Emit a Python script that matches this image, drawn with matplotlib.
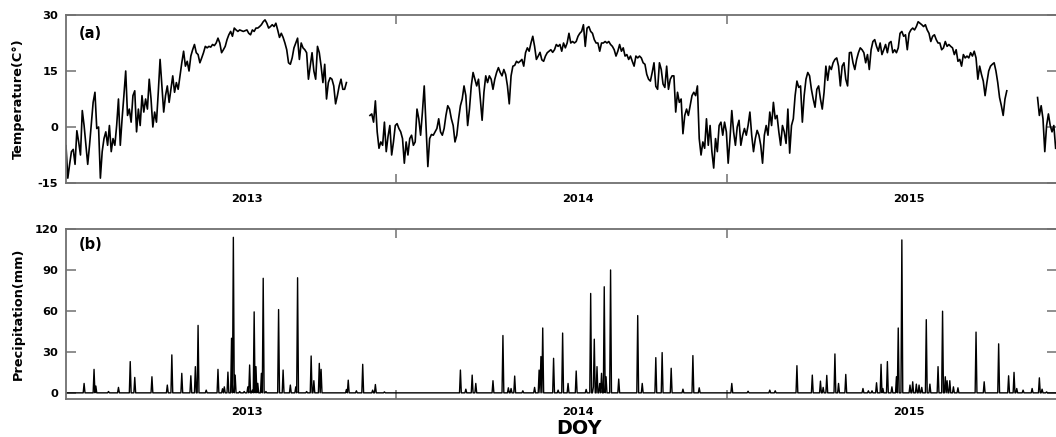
import numpy as np
import matplotlib
matplotlib.use("Agg")
import matplotlib.pyplot as plt
from matplotlib.ticker import FixedLocator, FixedFormatter, NullFormatter

plt.rcParams['axes.unicode_minus'] = False

# daily mean temperature (C), one reading every 2 days; three pieces, missing days in between
temp_start = [0, 336, 1074]
temp_a = [-5, -13.7, -10, -6.6, -6, -10, -1, -4, -7.5, 4.4, 0.4, -4.9, -10, -4.9, 1, 6.6, 9.3, -0.4, 0, -13.7,
          -6.6, -3.1, -1.3, -4.9, 0.4, -6.6, -3.1, -4.9, 0.4, 7.5, -4.9, 2.2, 8.4, 15, 3.1, 4.8, 1.3, 8.4, 9.7, -1.3,
          4.8, 0.4, 8.4, 4, 7.5, 4.8, 12.8, 7.5, 0, 4, 1.3, 9.3, 18.1, 11, 4, 8.4, 11, 6.6, 10.1, 13.7,
          9.3, 11.9, 10.1, 13.7, 17.2, 20.3, 16.3, 17.6, 15, 19, 20.7, 22.1, 19.9, 19.4, 17.2, 18.5, 19.9, 21.6, 21.2, 21.6,
          21.4, 22.1, 21.8, 22.5, 23.8, 22.5, 19.9, 20.7, 21.6, 23.4, 24.7, 25.6, 24.3, 26.5, 26, 25.6, 26, 25.8, 25.6, 25.8,
          26, 25.1, 24.7, 26, 25.6, 26.5, 26.5, 26.9, 27.4, 28.2, 28.7, 27.8, 26.5, 26.9, 27.4, 26.9, 27.8, 26, 24, 25.1,
          24, 22.5, 20.7, 17.2, 16.8, 18.5, 21.2, 22.5, 23.8, 18.1, 22.5, 21.2, 20.7, 19.9, 12.8, 16.3, 19.9, 15, 12.8, 21.6,
          19.9, 16.3, 11.9, 16.8, 7.5, 11.9, 13.2, 12.8, 11, 6.2, 8.4, 11, 12.8, 10.1, 10.1, 11.9]
temp_b = [3.1, 3.5, 1.3, 7, -1.3, -5.7, -4, -4.9, 1.3, -6.6, -2.5, 0.4, -7.5, -4, 0.4, 0.9, -0.4, -1.3, -3.1, -9.7,
          -4, -7.5, -3.1, -2.2, -4.9, -4, 4.8, 2.2, -2.2, 4, 11, 0.4, -10.6, -3.1, -2, -2.2, -1.3, -0.4, 2.2, -1.3,
          -2.2, -0.4, 3.1, 5.7, 4.8, 2.2, 0.4, -4, -2.2, 2.2, 5.7, 7.5, 11, 8.4, 0.4, 4.8, 11, 14.6, 12.8, 11,
          12.8, 7.5, 1.8, 9.3, 13.7, 11.9, 13.7, 12.8, 10.1, 12.8, 14.6, 15.9, 14.6, 13.7, 15.4, 14.1, 11, 6.2, 13.7, 16.3,
          16.5, 17.6, 17.2, 17.6, 18.1, 16.3, 19.9, 21.2, 20.3, 22.5, 24.3, 21.6, 18.1, 19, 20, 18, 17.6, 19, 19.9, 20.3,
          20.7, 20, 20.7, 22.1, 21.6, 22.1, 20.3, 22.5, 21.2, 22.5, 25.1, 22.5, 22.9, 22.5, 22.9, 24.3, 25.1, 25.6, 27.4, 21.6,
          26.5, 26.9, 25.6, 25.1, 23.4, 22.5, 22.5, 20.3, 22.5, 22.5, 22.9, 22.5, 22.9, 22.1, 21.6, 20.7, 19, 20.3, 22.1, 20.3,
          21.2, 19, 19.4, 18.1, 19, 17.6, 16.3, 19, 18.5, 19, 18.5, 17.2, 16.8, 14.1, 12.8, 12.3, 14.6, 17.2, 10.9, 10.1,
          17.2, 15.4, 11.5, 10.6, 16.3, 10.1, 12.8, 13.7, 13.7, 4, 9.3, 6.6, 7.5, -1.8, 3.1, 4.8, 3.1, 5.7, 8.4, 9.3,
          8.4, 11, -3.1, -7.5, -4, -5.7, 2.2, -4.9, 0.4, -6.6, -11, -3.1, -6.6, 0.4, 1.3, -2.2, 1.3, -1.3, -9.7, -3.1,
          4.4, -1.3, -4.9, 0, 1.8, -4.9, -2.2, -0.4, -2.2, 0.4, 4, -2.2, -6.6, -3.1, -0.9, -2.2, -4.9, -9.7, -2.2, 0.4,
          -2.2, 4, 0.4, 6.6, 2.2, 3.1, -1.3, -4.9, 0.4, -1.3, -4.4, 4.8, -7, 0.4, 2.2, 8.4, 12.3, 10.6, 11, 1.3,
          8.4, 12.8, 14.6, 13.7, 10.1, 7.5, 5.3, 10.1, 11, 7.5, 4.8, 9.3, 16.3, 12.5, 16.3, 15.4, 17.2, 18.1, 18.5, 16.3,
          11, 16.3, 17.2, 12.8, 11, 19.9, 20, 17.2, 15.4, 18.1, 19.9, 21.2, 20.7, 19.9, 17.2, 19.4, 15.4, 20.7, 22.9, 23.4,
          21.6, 20.3, 22.5, 19.4, 20.7, 22.1, 19.9, 22.5, 22.9, 19.9, 20.7, 19.9, 21.2, 25.1, 25.6, 24.3, 24.7, 20.7, 25.1, 26,
          26.5, 26, 26.9, 28.2, 27.8, 27.4, 26.9, 27.4, 26, 25.1, 22.9, 24.3, 24.7, 23.4, 22.5, 22.5, 20.7, 21.2, 22.9, 21.6,
          22.1, 21.6, 21.2, 19.4, 20.7, 17.6, 18.1, 16.3, 19.4, 18.5, 19, 18.5, 19.9, 19, 20.3, 18.5, 12.8, 16.3, 14.1, 12.3,
          8.4, 11.9, 15, 16.3, 16.8, 17.2, 15, 11.9, 7.9, 5.7, 3.1, 7.5, 9.7]
temp_c = [7.9, 3.1, 5.7, 2.2, -6.6, 0.4, 3.5, 0.4, -1.3, 0.4, -5.7]

# rainy days (day index from 1 Jan 2013) and daily precipitation (mm)
rain_day = [20, 31, 33, 47, 58, 71, 76, 95, 112, 117, 128, 138, 143, 146, 155, 168, 173, 175, 179, 183,
            185, 187, 192, 197, 201, 203, 206, 208, 210, 212, 216, 218, 221, 235, 240, 248, 254, 256, 266, 271,
            274, 280, 282, 310, 312, 321, 328, 339, 342, 352,
            436, 442, 449, 453, 472, 483, 489, 492, 496, 505, 518, 523, 525, 527, 539, 544, 549, 555, 564, 575,
            580, 583, 584, 587, 590, 592, 595, 597, 602, 611, 632, 637, 652, 659, 669, 682, 693, 700, 736, 754,
            778, 784,
            808, 825, 834, 837, 841, 850, 854, 862, 881, 887, 891, 896, 901, 903, 908, 913, 918, 920, 924, 933,
            936, 940, 943, 946, 951, 955, 964, 969, 972, 974, 977, 981, 986, 1006, 1015, 1031, 1042, 1048, 1051, 1058,
            1068, 1076, 1079, 1084]
rain_mm = [6.9, 17.2, 5, 1, 4, 22.9, 11.3, 11.8, 5.7, 27.8, 14.3, 12.5, 19.2, 49.4, 2, 17.2, 3, 4.4, 15.2, 40,
           113.9, 13, 1, 1, 4.4, 20.4, 2, 59.3, 19.2, 7, 14.3, 83.9, 1, 61, 16.7, 5.7, 4.4, 84.3, 1, 27,
           8.9, 21.6, 17.2, 2.5, 9.3, 1.5, 20.9, 2, 6.1, 0.7,
           16.7, 2.7, 13, 6.9, 8.9, 42, 3.7, 3.2, 12.3, 1.5, 4, 16.7, 26.6, 47.5, 25.3, 2, 43.8, 6.9, 16, 2.5,
           72.8, 4.4, 39.3, 19.2, 6.9, 14.3, 77.7, 11.8, 90, 10.1, 56.6, 6.9, 25.8, 29.5, 18, 2.7, 27.3, 3.7, 6.9, 1.2,
           2, 1.5,
           19.9, 13, 8.6, 4, 12.8, 28.5, 6.9, 13.5, 3.2, 1.5, 1.5, 7.4, 20.9, 3.2, 22.9, 4.4, 11.8, 47.5, 112, 5.7,
           8.1, 6.4, 5.7, 4, 53.6, 6.4, 19.2, 59.8, 11.8, 8.9, 8.9, 4.4, 3.7, 44.5, 8.1, 35.9, 12.5, 15, 3.2, 2,
           3.2, 11, 2.7, 0.7]

years = ['2013', '2014', '2015']
year_mid = [200, 566, 932]
year_edge = [365, 731]
n_days = 1096

# build the plotting series
tx, ty = [], []
for start, seg in zip(temp_start, [temp_a, temp_b, temp_c]):
    tx += list(range(start, start + 2 * len(seg), 2)) + [np.nan]
    ty += seg + [np.nan]
days = np.arange(n_days)
rain = np.zeros(n_days)
rain[rain_day] = rain_mm

grey = '#707070'
W, H = 1056, 437

fig = plt.figure(figsize=(W / 100, H / 100), dpi=100)
ax1 = fig.add_axes([66 / W, 1 - 183 / H, 991 / W, 168 / H])
ax2 = fig.add_axes([66 / W, 1 - 399 / H, 991 / W, 170 / H])

ax1.plot(tx, ty, color='black', lw=1.2)
ax2.plot(days, rain, color='black', lw=1.0)


def style(ax, xpad):
    ax.set_xlim(0, 1095.5)
    ax.xaxis.set_major_locator(FixedLocator(year_edge))
    ax.xaxis.set_major_formatter(NullFormatter())
    ax.xaxis.set_minor_locator(FixedLocator(year_mid))
    ax.xaxis.set_minor_formatter(FixedFormatter(years))
    ax.tick_params(which='major', direction='in', width=1.1, color=grey, top=True, right=True)
    ax.tick_params(axis='x', which='major', length=6.5)
    ax.tick_params(axis='x', which='minor', length=0, pad=xpad, labelsize=8.2)
    ax.tick_params(axis='y', which='major', length=7.2, pad=5.5, labelsize=8.2)
    for s in ax.spines.values():
        s.set_color(grey)
        s.set_linewidth(1.3)
    for lab in ax.get_xticklabels(minor=True) + ax.get_yticklabels():
        lab.set_fontweight('bold')
    ax.yaxis.set_label_coords(-0.0414, 0.49)


ax1.set_ylim(-15, 30)
ax1.set_yticks([-15, 0, 15, 30])
style(ax1, 8)
ax1.set_ylabel('Temperature(C°)', fontsize=9.3, fontweight='bold')
ax1.text(0.013, 0.887, '(a)', transform=ax1.transAxes, fontsize=10.5, fontweight='bold', va='center')

ax2.set_ylim(-4.5, 120)
ax2.set_yticks([0, 30, 60, 90, 120])
style(ax2, 5.5)
ax2.set_ylabel('Precipitation(mm)', fontsize=9.3, fontweight='bold')
ax2.text(0.013, 0.906, '(b)', transform=ax2.transAxes, fontsize=10.5, fontweight='bold', va='center')

fig.text(579 / W, 1 - 428 / H, 'DOY', fontsize=13.8, fontweight='bold', ha='center', va='center')

fig.savefig('out.png', dpi=100)
